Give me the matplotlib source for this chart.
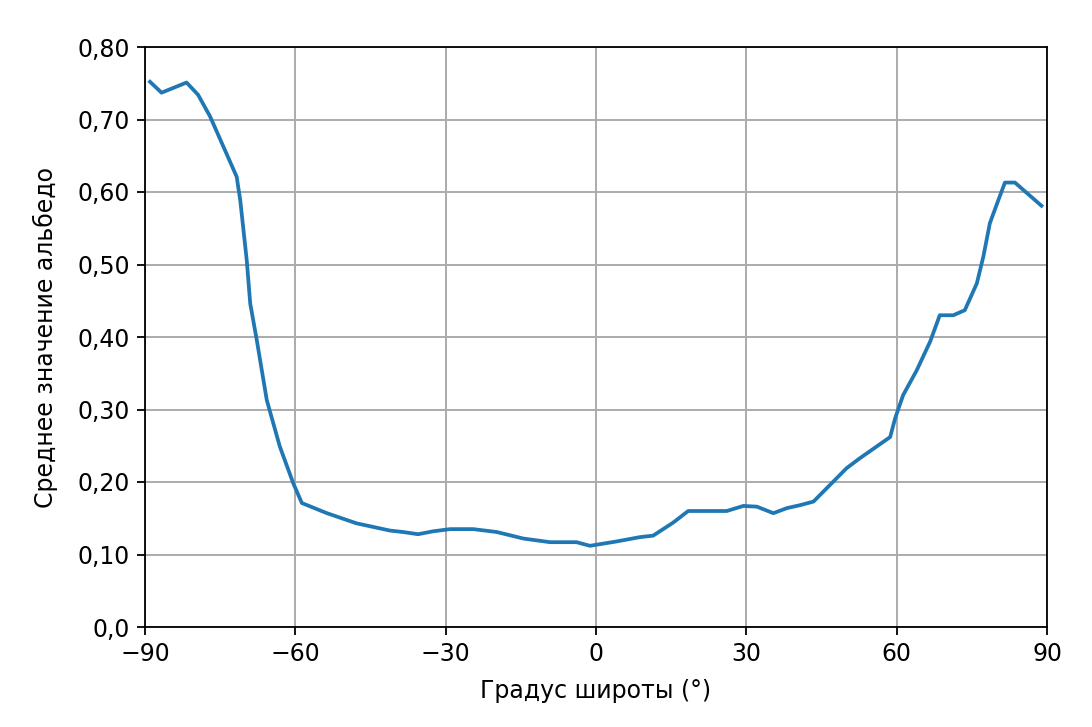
import matplotlib
matplotlib.use("Agg")
import matplotlib.pyplot as plt

latitude = [-89.0, -86.7, -81.7, -79.4, -77.0, -71.7, -71.4, -71.0, -69.7, -69.0,
            -67.7, -65.7, -63.1, -60.4, -58.7, -53.7, -47.8, -41.1, -38.5, -35.5,
            -32.5, -29.1, -24.5, -19.8, -14.5, -9.2, -3.9, -1.2, 4.1, 8.8,
            11.4, 15.4, 18.4, 26.1, 29.4, 32.1, 35.4, 38.1, 40.7, 43.4,
            46.7, 50.0, 52.7, 58.7, 59.7, 61.3, 64.0, 66.7, 68.6, 71.3,
            73.6, 76.0, 77.3, 78.6, 80.3, 81.6, 83.6, 88.9]
albedo = [0.752, 0.737, 0.751, 0.734, 0.704, 0.621, 0.607, 0.589, 0.506, 0.446,
          0.396, 0.313, 0.249, 0.198, 0.171, 0.157, 0.143, 0.133, 0.131, 0.128,
          0.132, 0.135, 0.135, 0.131, 0.122, 0.117, 0.117, 0.112, 0.118, 0.124,
          0.126, 0.144, 0.160, 0.160, 0.167, 0.166, 0.157, 0.164, 0.168, 0.173,
          0.196, 0.219, 0.233, 0.262, 0.288, 0.320, 0.354, 0.394, 0.430, 0.430,
          0.437, 0.474, 0.511, 0.557, 0.589, 0.613, 0.613, 0.581]

x_ticks = [-90, -60, -30, 0, 30, 60, 90]
x_tick_labels = ["\u221290", "\u221260", "\u221230", "0", "30", "60", "90"]
y_ticks = [0.0, 0.1, 0.2, 0.3, 0.4, 0.5, 0.6, 0.7, 0.8]
y_tick_labels = ["0,0", "0,10", "0,20", "0,30", "0,40", "0,50", "0,60", "0,70", "0,80"]

plt.rcParams['font.family'] = ['DejaVu Sans']
fig = plt.figure(figsize=(10.92, 7.27), dpi=100)
ax = fig.add_axes([145/1092, 1 - 627/727, (1047-145)/1092, (627-47)/727])

ax.plot(latitude, albedo, color='#1f77b4', lw=2.7, zorder=3,
        solid_joinstyle='round')
ax.set_xlim(-90, 90)
ax.set_ylim(0, 0.8)
ax.set_xticks(x_ticks)
ax.set_xticklabels(x_tick_labels)
ax.set_yticks(y_ticks)
ax.set_yticklabels(y_tick_labels)
ax.grid(True, color='#ababab', lw=1.4)
ax.tick_params(labelsize=17, length=6, width=1.3, pad=5)
for s in ax.spines.values():
    s.set_linewidth(1.3)
ax.set_xlabel("Градус широты (°)", fontsize=17, labelpad=9)
ax.set_ylabel("Среднее значение альбедо", fontsize=17, labelpad=14)

fig.savefig("out.png", dpi=100)
